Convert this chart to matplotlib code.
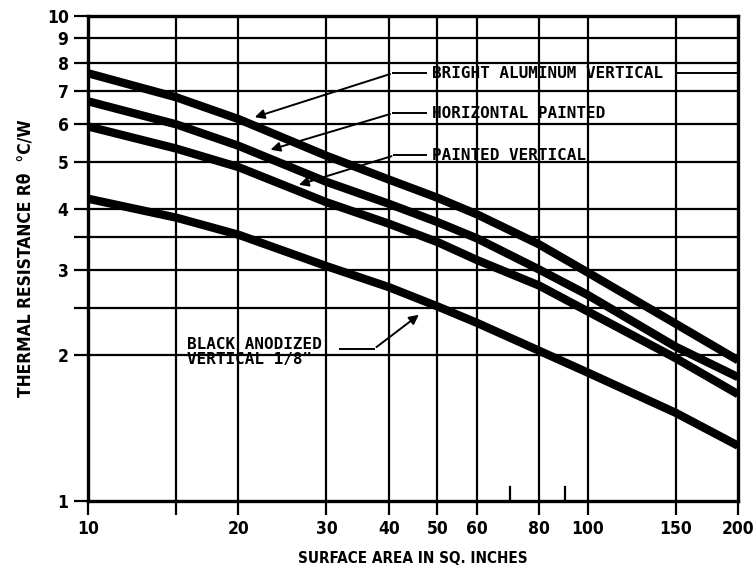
import matplotlib
matplotlib.use("Agg")
import matplotlib.pyplot as plt
from matplotlib.ticker import FixedLocator, NullLocator, NullFormatter

# surface area (sq. in.) and thermal resistance (deg C/W)
area = [10, 15, 20, 30, 40, 50, 60, 80, 100, 150, 200]
bright_al_vert = [7.62, 6.8, 6.13, 5.15, 4.6, 4.22, 3.9, 3.38, 2.96, 2.32, 1.95]
horiz_painted = [6.67, 5.98, 5.4, 4.55, 4.1, 3.76, 3.48, 3.0, 2.66, 2.08, 1.8]
painted_vert = [5.92, 5.33, 4.88, 4.13, 3.73, 3.42, 3.14, 2.78, 2.46, 1.97, 1.66]
black_anod = [4.2, 3.84, 3.54, 3.05, 2.76, 2.52, 2.33, 2.04, 1.84, 1.52, 1.3]

x_grid = [10, 15, 20, 30, 40, 50, 60, 80, 100, 150, 200]
x_labels = ['10', '', '20', '30', '40', '50', '60', '80', '100', '150', '200']
x_short = [70, 90]
y_grid = [1, 2, 2.5, 3, 3.5, 4, 5, 6, 7, 8, 9, 10]
y_labels = ['1', '2', '', '3', '', '4', '5', '6', '7', '8', '9', '10']

tick_font = ['DejaVu Sans']
note_font = ['DejaVu Sans Mono']

fig = plt.figure(figsize=(7.55, 5.71), dpi=100)
ax = fig.add_axes([0.1166, 0.1226, 0.861, 0.8494])
ax.set_xscale('log')
ax.set_yscale('log')
ax.set_xlim(10, 200)
ax.set_ylim(1, 10)

# grid
for xv in x_grid[1:-1]:
    ax.axvline(xv, color='black', lw=1.6, zorder=1)
for yv in y_grid[1:-1]:
    ax.axhline(yv, color='black', lw=1.6, zorder=1)
for xv in x_short:
    ax.plot([xv, xv], [1, 1.07], color='black', lw=1.6, zorder=1)

ax.xaxis.set_major_locator(FixedLocator(x_grid))
ax.xaxis.set_minor_locator(NullLocator())
ax.set_xticklabels(x_labels)
ax.xaxis.set_minor_formatter(NullFormatter())
ax.yaxis.set_major_locator(FixedLocator(y_grid))
ax.yaxis.set_minor_locator(NullLocator())
ax.set_yticklabels(y_labels)
ax.yaxis.set_minor_formatter(NullFormatter())
ax.tick_params(axis='both', direction='out', length=10, width=1.6, color='black', pad=4)
for lab in ax.get_xticklabels() + ax.get_yticklabels():
    lab.set_family(tick_font)
    lab.set_fontsize(12.5)
    lab.set_fontweight('bold')
    lab.set_fontstretch('condensed')

for sp in ax.spines.values():
    sp.set_linewidth(2.4)
    sp.set_color('black')

# curves
for ys in (bright_al_vert, horiz_painted, painted_vert, black_anod):
    ax.plot(area, ys, color='black', lw=6, solid_capstyle='butt',
            solid_joinstyle='round', zorder=3)

# callouts
arrow = dict(arrowstyle='-|>', color='black', lw=1.4, mutation_scale=14)
notes = [
    ('BRIGHT ALUMINUM VERTICAL', 48.9, 7.62, 40.7, (21.3, 6.16)),
    ('HORIZONTAL PAINTED', 48.9, 6.3, 40.7, (22.9, 5.28)),
    ('PAINTED VERTICAL', 48.9, 5.16, 41.0, (26.1, 4.47)),
]
for text, tx, ty, lx, head in notes:
    ax.text(tx, ty, text, family=note_font, fontsize=11.5, fontweight='bold',
            ha='left', va='center', zorder=4)
    ax.plot([lx, tx * 0.97], [ty, ty], color='black', lw=1.4, zorder=4)
    ax.annotate('', xy=head, xytext=(lx, ty), arrowprops=arrow, zorder=4)
ax.plot([150, 200], [7.62, 7.62], color='black', lw=1.4, zorder=4)

ax.text(15.8, 2.03, 'BLACK ANODIZED\nVERTICAL 1/8"', family=note_font, fontsize=11.5,
        fontweight='bold', ha='left', va='center', linespacing=1.0, zorder=4)
ax.plot([31.9, 37.4], [2.06, 2.06], color='black', lw=1.4, zorder=4)
ax.annotate('', xy=(46.4, 2.44), xytext=(37.4, 2.06), arrowprops=arrow, zorder=4)

ax.set_xlabel('SURFACE AREA IN SQ. INCHES', family=tick_font, fontsize=11,
              fontweight='bold', fontstretch='condensed', labelpad=9)
ax.set_ylabel('THERMAL RESISTANCE R\u03b8  \u00b0C/W', family=tick_font, fontsize=12.5,
              fontweight='bold', fontstretch='condensed', labelpad=9)

fig.savefig('out.png', dpi=100)
